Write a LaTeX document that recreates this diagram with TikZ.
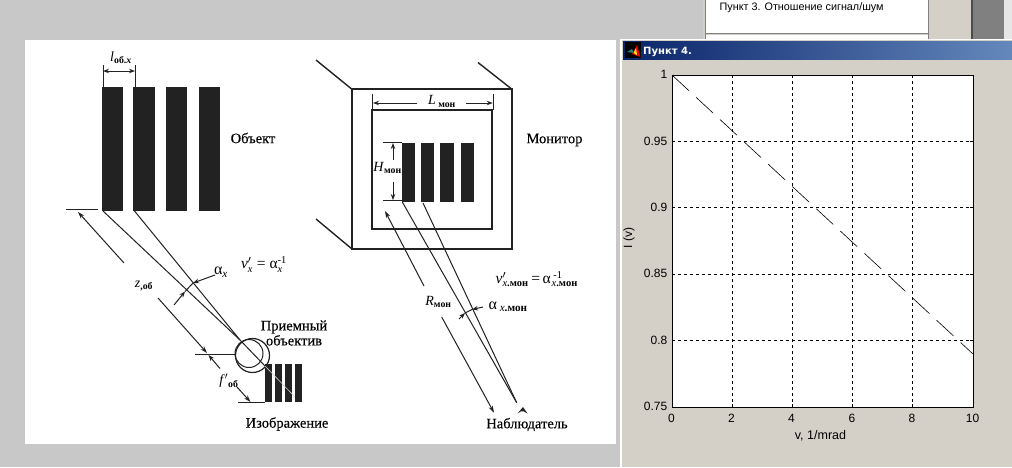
\documentclass[tikz,border=0pt]{standalone}
\usepackage{fontspec}
\setmainfont{Liberation Serif}
\setsansfont{Liberation Sans}
\newfontfamily\titlefont{DejaVu Sans}
\newfontfamily\capfont[FakeBold=0.25]{Liberation Serif}
\usetikzlibrary{arrows.meta}
\definecolor{deskgray}{HTML}{C8C8C8}
\definecolor{winbeige}{HTML}{D4D0C8}
\definecolor{bardark}{HTML}{0A246A}
\definecolor{barlight}{HTML}{6488BC}
\definecolor{inkdark}{HTML}{222222}
\definecolor{midgray}{HTML}{808080}
\definecolor{checkgray}{HTML}{E6E6E6}
\newcommand{\sbb}[1]{\textsubscript{\bfseries #1}}
\newcommand{\scrb}[1]{\hbox{\fontsize{10.5}{11}\selectfont #1}}
\tikzset{
  x=1pt,y=-1pt,
  ink/.style={draw=inkdark,line width=1pt},
  frameline/.style={draw=inkdark,line width=1.7pt},
  bar/.style={fill=inkdark,draw=none},
  dim/.style={ink,{Stealth[length=6pt,width=4.5pt]}-{Stealth[length=6pt,width=4.5pt]}},
  arr/.style={ink,-{Stealth[length=7pt,width=4.5pt]}},
  lbl/.style={inner sep=0pt,font=\fontsize{14}{15}\selectfont,text=black},
  captext/.style={inner sep=0pt,font=\capfont\fontsize{14.5}{15}\selectfont,text=black},
  mlab/.style={inner sep=0pt,font=\sffamily\fontsize{12}{13}\selectfont,text=black},
  griddash/.style={draw=black,line width=0.7pt,dash pattern=on 3pt off 3pt},
}
\begin{document}
\begin{tikzpicture}
\useasboundingbox (0,0) rectangle (1012,467);
\fill[deskgray] (0,0) rectangle (1012,467);
% background window
\fill[winbeige] (703,0) rectangle (972,40);
\fill[checkgray] (1004,0) rectangle (1012,40);
\fill[white] (705,0) rectangle (928,33);
\draw[gray,line width=0.9pt] (705,0) -- (705,40) (928,0) -- (928,40) (705,33.5) -- (928,33.5);
\fill[white] (705.5,35) rectangle (927.5,40);
\fill[midgray] (972,0) rectangle (1004,40);
\fill[black!70] (971,0) rectangle (973,40);
\node[mlab,anchor=west,font=\sffamily\fontsize{10.8}{12}\selectfont] (t3) at (719.5,7.5) {Пункт 3. Отношение сигнал/шум};
% scan sheet
\fill[white] (25,40) rectangle (616,444);
% left stripes
\fill[bar] (101.7,86.5) rectangle (122.7,211);
\fill[bar] (133.3,86.5) rectangle (155,211);
\fill[bar] (166,86.5) rectangle (187,211);
\fill[bar] (199,86.5) rectangle (220,211);
\draw[ink] (103,65) -- (103,86.5) (135,65) -- (135,86.5);
\draw[dim] (103,71) -- (135,71);
\node[lbl] (lob) at (121,58) {\textit{l}\sbb{об.\textit{x}}};
\node[captext] (obj) at (253,138) {Объект};
% left rays
\coordinate (base1) at (66,209.7);
\coordinate (base2) at (98,209.7);
\draw[ink] (base1) -- (base2);
\coordinate (zB) at (124,263);
\coordinate (zA) at (78,212);
\draw[arr] (zB) -- (zA);
\node[lbl] (zob) at (144,286) {\textit{z}\sbb{,об}};
\coordinate (zC) at (158,298);
\coordinate (zD) at (207,353);
\draw[arr] (zC) -- (zD);
\draw[ink] (103,211) -- (240,340);
\draw[ink] (134.5,211) -- (240,340);
\draw[ink] (240,340) -- (265,366);
\node[ink,circle,minimum size=28pt,inner sep=0pt] (lens1) at (249,353.5) {};
\node[ink,circle,minimum size=34pt,inner sep=0pt,line width=1.2pt] (lens2) at (252.5,355.5) {};
\coordinate (f0) at (195,354);
\draw[ink] (f0) -- (236,354);
\draw[ink,-{Stealth[length=6pt,width=4.5pt]}] (220,368.5) -- (208.5,355);
\node[lbl] (fob) at (229,381) {\textit{f}$'$\sbb{об}};
\coordinate (fC) at (237,387);
\coordinate (fD) at (250.5,402);
\draw[arr] (fC) -- (fD);
\draw[ink] (238,402) -- (265,402);
% image stripes
\fill[bar] (265,364) rectangle (272,402);
\fill[bar] (275,364) rectangle (281.5,402);
\fill[bar] (285,364) rectangle (291.5,402);
\fill[bar] (295,364) rectangle (302,402);
\draw[draw=white!80!inkdark,line width=0.6pt] (265,366) -- (295,397);
% alpha x
\draw[ink,-{Stealth[length=6pt,width=4.5pt]}] (215,275) -- (193,283);
\draw[ink,-{Stealth[length=6pt,width=4.5pt]}] (174,305) -- (185,291.5);
\draw[ink] (185,291.5) -- (193,283);
\node[lbl,font=\fontsize{16}{17}\selectfont] (ax) at (221,272) {α\textsubscript{\textit{x}}};
\node[lbl,font=\fontsize{15.5}{16}\selectfont] (nux) at (264,264.5) {\textit{ν}$'_{\scrb{\textit{x}}}$ = α$^{\scrb{-1}}_{\scrb{\textit{x}}}$};
\node[captext,align=center] (pr) at (294,333) {Приемный\\объектив};
\node[captext] (izo) at (287,424) {Изображение};
% monitor
\draw[frameline] (352,89.3) rectangle (512,249);
\draw[frameline] (372,110) rectangle (492,229);
\coordinate (m1) at (316,60); \coordinate (m1b) at (352,89.3);
\coordinate (m2) at (478,62.5); \coordinate (m2b) at (512,89.3);
\coordinate (m3) at (316,219); \coordinate (m3b) at (352,249);
\draw[ink,line width=1.4pt] (m1) -- (m1b) (m2) -- (m2b) (m3) -- (m3b);
\draw[ink] (372.7,94) -- (372.7,110) (493,94) -- (493,110);
\draw[ink,-{Stealth[length=6pt,width=4.5pt]}] (417,103) -- (373,103);
\draw[ink,-{Stealth[length=6pt,width=4.5pt]}] (466,103) -- (492.7,103);
\node[lbl] (lmon) at (442,101.5) {\textit{L}\,\sbb{мон}};
\fill[bar] (402.3,142.7) rectangle (415,202);
\fill[bar] (421,142.7) rectangle (434,202);
\fill[bar] (440,142.7) rectangle (454,202);
\fill[bar] (460.7,142.7) rectangle (474,202);
\draw[ink] (383,142.3) -- (402,142.3) (383,200.7) -- (402,200.7);
\draw[ink,-{Stealth[length=6pt,width=4.5pt]}] (393,160) -- (393,143);
\draw[ink,-{Stealth[length=6pt,width=4.5pt]}] (393,181.5) -- (393,200);
\node[lbl] (hmon) at (387.5,168) {\textit{H}\sbb{мон}};
\node[captext] (mon) at (554.5,140) {Монитор};
% monitor rays
\coordinate (obs) at (516.7,402.7);
\draw[ink] (402.3,202) -- (obs);
\draw[ink] (423,203) -- (obs);
\coordinate (rA) at (385,211);
\coordinate (rB) at (424,286);
\draw[arr] (rB) -- (rA);
\coordinate (rC) at (441.7,317);
\coordinate (rD) at (494,412.7);
\draw[arr] (rC) -- (rD);
\node[lbl] (rmon) at (438.5,302) {\textit{R}\sbb{мон}};
\draw[ink,-{Stealth[length=6pt,width=4.5pt]}] (483,307) -- (472,309.5);
\draw[ink,-{Stealth[length=6pt,width=4.5pt]}] (459,319) -- (465,313);
\draw[ink] (465,313) -- (472,309.5);
\node[lbl,anchor=west,font=\fontsize{16}{17}\selectfont] (axm) at (488.5,307) {α\,\textsubscript{\textit{x}\bfseries .мон}};
\node[lbl,anchor=west,font=\fontsize{15.5}{16}\selectfont] (num) at (495.5,279) {\textit{ν}$'_{\scrb{\textit{x}\bfseries .мон}}$\,=\,α\kern1pt$^{\scrb{\,-1}}_{\scrb{\textit{x}\bfseries .мон}}$};
\fill[inkdark,even odd rule] (517.5,413.5) -- (523,407) -- (527.5,413.5) -- (523.5,411.3) -- (521,411.3) -- cycle;
\node[captext] (nab) at (527,424.5) {Наблюдатель};
% matlab window
\fill[winbeige] (622,39) rectangle (1012,467);
\draw[white,line width=1.2pt] (621,39) -- (621,467);
\draw[white,line width=0.8pt] (621,39.5) -- (1012,39.5);
\shade[left color=bardark,right color=barlight] (623,41) rectangle (1012,59);
\fill[black] (625,42) rectangle (641,58);
\fill[teal!70!gray] (627,52) -- (632,49) -- (634,53) -- cycle;
\fill[red!90!black] (632,54) -- (637,45) -- (640.5,57) -- cycle;
\fill[yellow!90!orange] (633.5,53) -- (636,48) -- (637,55) -- cycle;
\node[inner sep=0pt,anchor=west,text=white,font=\titlefont\bfseries\fontsize{10}{11}\selectfont] (title) at (643,52) {Пункт 4.};
% axes
\fill[white] (672,75) rectangle (973,407);
\foreach \gx in {732,792,852.5,912.5}
  \draw[griddash] (\gx,75) -- (\gx,407);
\foreach \gy in {141.4,207.8,274.2,340.6}
  \draw[griddash] (672,\gy) -- (973,\gy);
\coordinate (c0) at (672,75);
\coordinate (c1) at (973,354);
\draw[black,line width=0.6pt,dash pattern=on 23pt off 9.8pt] (c0) -- (c1);
\draw[black,line width=1pt] (672,75) rectangle (973,407);
% ticks
\foreach \gx in {732,792,852.5,912.5} {
  \draw[black,line width=0.7pt] (\gx,407) -- (\gx,404) (\gx,75) -- (\gx,78);}
\foreach \gy in {141.4,207.8,274.2,340.6} {
  \draw[black,line width=0.7pt] (672,\gy) -- (675,\gy) (973,\gy) -- (970,\gy);}
\foreach \nm/\gy/\tx in {y1/75/1,y2/141.4/0.95,y3/207.8/0.9,y4/274.2/0.85,y5/340.6/0.8,y6/407/0.75}
  \node[mlab,anchor=east] (\nm) at (667.5,\gy-0.5) {\tx};
\foreach \nm/\gx/\tx in {x0/672/0,x2/732/2,x4/792/4,x6/852.5/6,x8/912.5/8,x10/973/10}
  \node[mlab] (\nm) at (\gx-0.5,418) {\tx};
\node[mlab,font=\sffamily\fontsize{12.5}{13}\selectfont] (xl) at (820.5,436) {v, 1/mrad};
\node[mlab,rotate=90] (yl) at (629,238) {I (v)};
\end{tikzpicture}
\end{document}
